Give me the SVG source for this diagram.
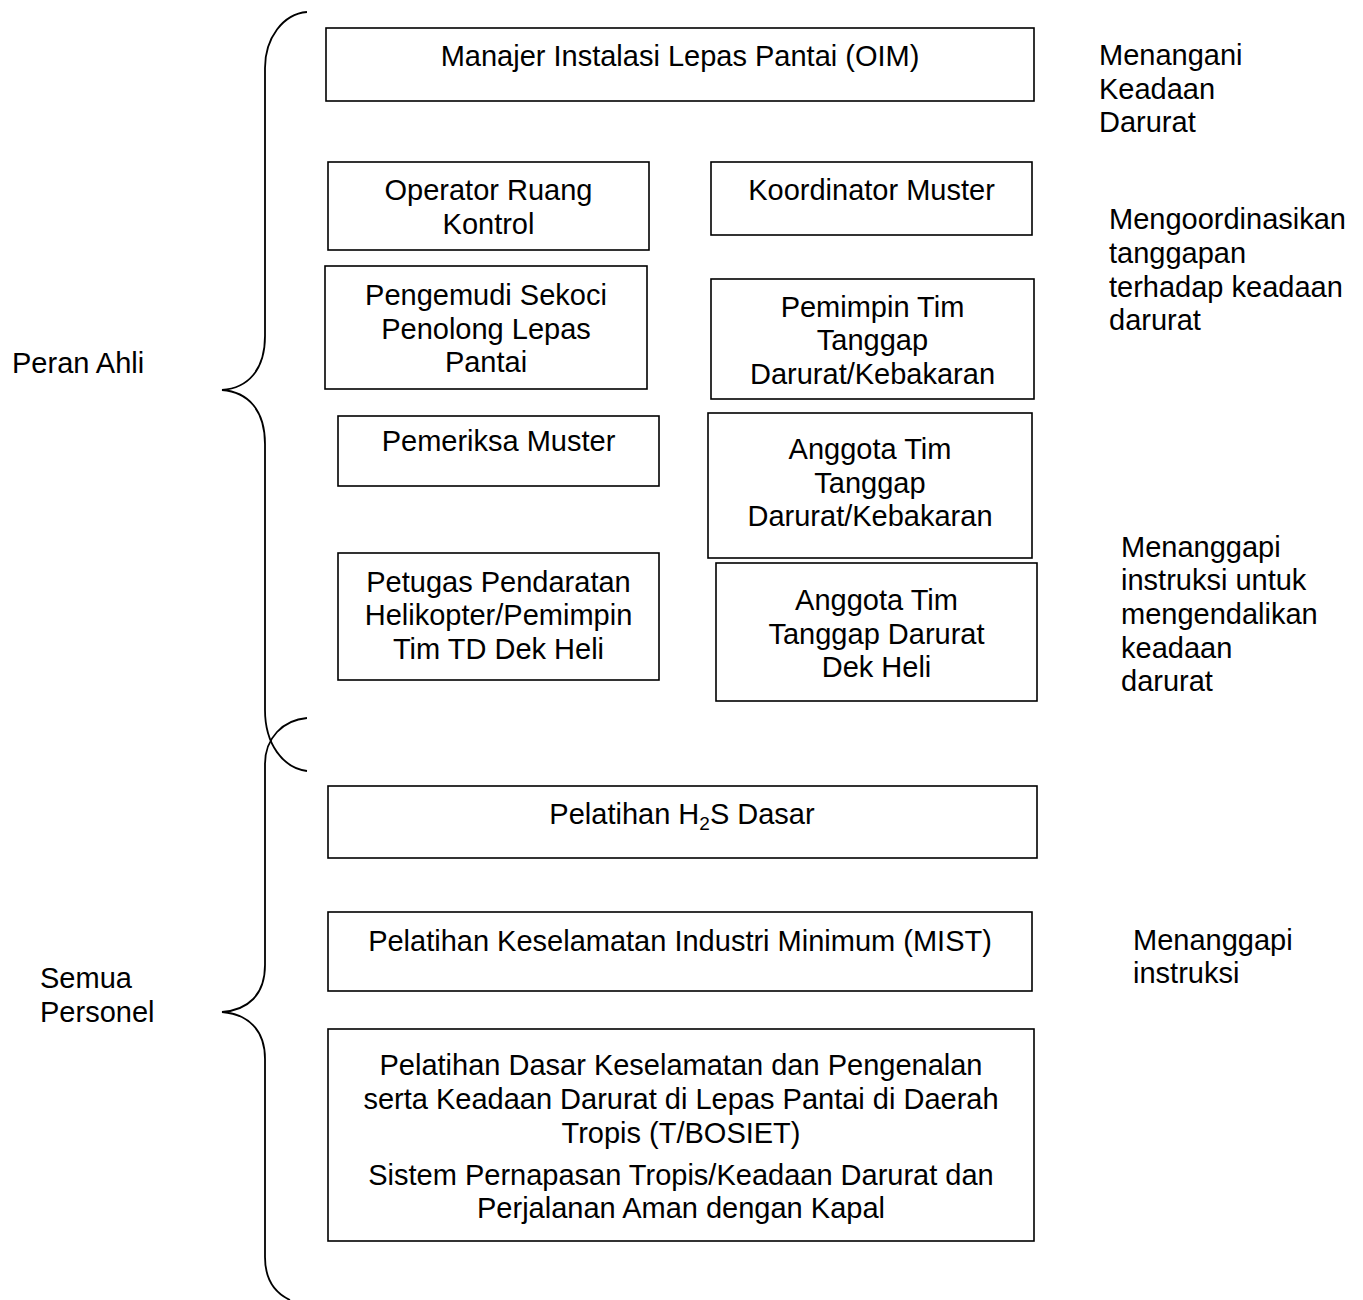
<svg xmlns="http://www.w3.org/2000/svg" width="1363" height="1300" viewBox="0 0 1363 1300">
<style>
rect{fill:#fff;stroke:#000;stroke-width:1.6}
text{font-family:"Liberation Sans",Arial,sans-serif;font-size:29px;fill:#000}
.c{text-anchor:middle}
.brace{fill:none;stroke:#000;stroke-width:1.8}
</style>
<rect x="0" y="0" width="1363" height="1300" style="stroke:none"/>
<g id="braces">
<path class="brace" d="M307,12 C283,14 265,38 265,68 L265,336 C265,370 248,388 222,390 C248,392 265,410 265,444 L265,710 C265,744 283,768 307,771"/>
<path class="brace" d="M307,718 C283,720 265,738 265,764 L265,965 C265,995 248,1010 222,1012 C248,1014 265,1030 265,1059 L265,1257 C265,1280 275,1293 290,1300"/>
</g>
<g id="n-oim"><rect x="326" y="28" width="708" height="73"/><text class="c" x="680" y="66">Manajer Instalasi Lepas Pantai (OIM)</text></g>
<g id="n-operator"><rect x="328" y="162" width="321" height="88"/><text class="c" x="488.5" y="200">Operator Ruang</text><text class="c" x="488.5" y="234">Kontrol</text></g>
<g id="n-koordinator"><rect x="711" y="162" width="321" height="73"/><text class="c" x="871.5" y="200">Koordinator Muster</text></g>
<g id="n-pengemudi"><rect x="325" y="266" width="322" height="123"/><text class="c" x="486" y="305">Pengemudi Sekoci</text><text class="c" x="486" y="339">Penolong Lepas</text><text class="c" x="486" y="372">Pantai</text></g>
<g id="n-pemimpin"><rect x="711" y="279" width="323" height="120"/><text class="c" x="872.5" y="317">Pemimpin Tim</text><text class="c" x="872.5" y="350">Tanggap</text><text class="c" x="872.5" y="384">Darurat/Kebakaran</text></g>
<g id="n-pemeriksa"><rect x="338" y="416" width="321" height="70"/><text class="c" x="498.5" y="451">Pemeriksa Muster</text></g>
<g id="n-anggota1"><rect x="708" y="413" width="324" height="145"/><text class="c" x="870" y="459">Anggota Tim</text><text class="c" x="870" y="493">Tanggap</text><text class="c" x="870" y="526">Darurat/Kebakaran</text></g>
<g id="n-petugas"><rect x="338" y="553" width="321" height="127"/><text class="c" x="498.5" y="592">Petugas Pendaratan</text><text class="c" x="498.5" y="625">Helikopter/Pemimpin</text><text class="c" x="498.5" y="659">Tim TD Dek Heli</text></g>
<g id="n-anggota2"><rect x="716" y="563" width="321" height="138"/><text class="c" x="876.5" y="610">Anggota Tim</text><text class="c" x="876.5" y="644">Tanggap Darurat</text><text class="c" x="876.5" y="677">Dek Heli</text></g>
<g id="n-h2s"><rect x="328" y="786" width="709" height="72"/><text class="c" x="682" y="824">Pelatihan H<tspan font-size="19" dy="6">2</tspan><tspan dy="-6">S Dasar</tspan></text></g>
<g id="n-mist"><rect x="328" y="912" width="704" height="79"/><text class="c" x="680" y="951">Pelatihan Keselamatan Industri Minimum (MIST)</text></g>
<g id="n-bosiet"><rect x="328" y="1029" width="706" height="212"/>
<text class="c" x="681" y="1075">Pelatihan Dasar Keselamatan dan Pengenalan</text>
<text class="c" x="681" y="1109">serta Keadaan Darurat di Lepas Pantai di Daerah</text>
<text class="c" x="681" y="1143">Tropis (T/BOSIET)</text>
<text class="c" x="681" y="1185">Sistem Pernapasan Tropis/Keadaan Darurat dan</text>
<text class="c" x="681" y="1218">Perjalanan Aman dengan Kapal</text></g>
<g id="labels">
<text x="1099" y="65">Menangani</text><text x="1099" y="99">Keadaan</text><text x="1099" y="132">Darurat</text>
<text x="1109" y="229">Mengoordinasikan</text><text x="1109" y="263">tanggapan</text><text x="1109" y="297">terhadap keadaan</text><text x="1109" y="330">darurat</text>
<text x="1121" y="557">Menanggapi</text><text x="1121" y="590">instruksi untuk</text><text x="1121" y="624">mengendalikan</text><text x="1121" y="658">keadaan</text><text x="1121" y="691">darurat</text>
<text x="1133" y="950">Menanggapi</text><text x="1133" y="983">instruksi</text>
<text x="12" y="373">Peran Ahli</text>
<text x="40" y="988">Semua</text><text x="40" y="1022">Personel</text>
</g>
</svg>
